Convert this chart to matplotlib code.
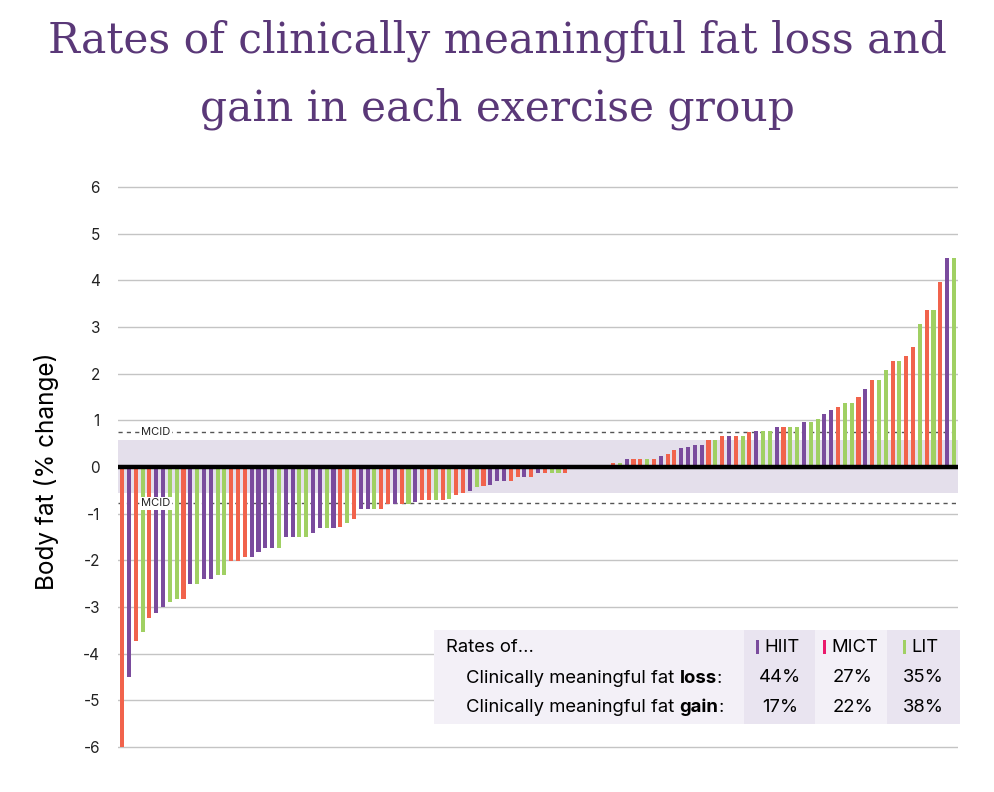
import numpy as np
import matplotlib
matplotlib.use("Agg")
import matplotlib.pyplot as plt
from matplotlib.patches import Rectangle

plt.rcParams['font.family'] = ['Inter', 'DejaVu Sans']
plt.rcParams['axes.unicode_minus'] = False

# group of each participant (sorted by change), H = HIIT, M = MICT, L = LIT
groups = list(
    "MHMLMHHLLM" "HLHHLLMMMH" "HHHLHHLLHH" "LHMLMHHLMM" "HMLHMMLMLM"
    "MHLMHHHMMH" "MHMLLM" "HLMHLM"
    "MLHMMLMHMM" "HHHHMLMHML" "MHLLHMLLHL" "LHHMLLMHML" "LMLMMLMLMHL"
)
# body fat change (%) for each bar
fat_change = [
    -6.0, -4.5, -3.73, -3.53, -3.23, -3.13, -3.01, -2.9, -2.83, -2.83,
    -2.51, -2.51, -2.41, -2.41, -2.32, -2.32, -2.01, -2.01, -1.92, -1.92,
    -1.82, -1.73, -1.73, -1.73, -1.51, -1.51, -1.51, -1.51, -1.41, -1.31,
    -1.31, -1.31, -1.28, -1.21, -1.11, -0.9, -0.9, -0.9, -0.9, -0.8,
    -0.8, -0.8, -0.8, -0.76, -0.71, -0.71, -0.71, -0.71, -0.68, -0.6,
    -0.55, -0.51, -0.43, -0.4, -0.39, -0.31, -0.31, -0.31, -0.21, -0.21,
    -0.21, -0.14, -0.14, -0.14, -0.14, -0.14,
    0, 0, 0, 0, 0, 0,
    0.08, 0.09, 0.18, 0.18, 0.18, 0.18, 0.18, 0.24, 0.27, 0.37,
    0.4, 0.43, 0.47, 0.47, 0.57, 0.57, 0.67, 0.67, 0.67, 0.67,
    0.74, 0.77, 0.77, 0.77, 0.86, 0.86, 0.86, 0.86, 0.96, 0.96,
    1.03, 1.14, 1.23, 1.28, 1.37, 1.37, 1.49, 1.67, 1.87, 1.87,
    2.07, 2.27, 2.27, 2.38, 2.56, 3.07, 3.37, 3.37, 3.97, 4.47, 4.47,
]
mcid_upper = 0.75
mcid_lower = -0.78
band = (-0.55, 0.58)

group_names = ["HIIT", "MICT", "LIT"]
loss_rates = ["44%", "27%", "35%"]
gain_rates = ["17%", "22%", "38%"]

bar_colors = {"H": "#7a4b9d", "M": "#f1634c", "L": "#a0d063"}
marker_colors = ["#7a4b9d", "#ea1a6c", "#a0d063"]
title_color = "#5a3878"

W, H = 994, 792
fig = plt.figure(figsize=(W / 100, H / 100), dpi=100)

def px(x):
    return x / W

def py(y):
    return 1 - y / H

ax = fig.add_axes([px(118), py(749.3), 840 / W, 564.7 / H])
n = len(fat_change)
x = np.arange(n)
cols = [bar_colors[g] for g in groups]

ax.axhspan(band[0], band[1], color="#e4dfeb", zorder=0, lw=0)
ax.bar(x, fat_change, width=0.6, color=cols, zorder=2)
ax.axhline(0, color="black", lw=3.2, zorder=4)
ax.axhline(mcid_upper, color="#555555", lw=1, ls=(0, (3, 3)), zorder=1)
ax.axhline(mcid_lower, color="#555555", lw=1, ls=(0, (3, 3)), zorder=1)
for yv in (mcid_upper, mcid_lower):
    ax.text(0.045, yv, "MCID", transform=ax.get_yaxis_transform(), ha="center",
            va="center", fontsize=8, color="#222222", zorder=5,
            bbox=dict(facecolor="white", edgecolor="none", pad=1.2))

ax.set_xlim(-0.6, n - 0.4)
ax.set_ylim(-6.05, 6.05)
ax.set_yticks(range(-6, 7))
ax.set_xticks([])
ax.grid(axis="y", color="#c4c4c4", lw=1, zorder=0)
ax.set_axisbelow(True)
for s in ax.spines.values():
    s.set_visible(False)
ax.tick_params(axis="y", length=0, pad=13, labelsize=11, labelcolor="#222222")

fig.text(px(47), py(471), "Body fat (% change)", rotation=90, ha="center",
         va="center", fontsize=17.5, color="black")

fig.text(0.5, py(53), "Rates of clinically meaningful fat loss and", ha="center",
         va="baseline", fontsize=30.5, color=title_color, family="DejaVu Serif")
fig.text(0.5, py(121), "gain in each exercise group", ha="center",
         va="baseline", fontsize=30.5, color=title_color, family="DejaVu Serif")

# table with the rates
fig.add_artist(Rectangle((px(434), py(724)), 526 / W, 94 / H, transform=fig.transFigure,
                         facecolor="#f3f0f7", edgecolor="none", zorder=6))
for x0, x1 in ((744, 815), (887, 960)):
    fig.add_artist(Rectangle((px(x0), py(724)), (x1 - x0) / W, 94 / H,
                             transform=fig.transFigure, facecolor="#e9e4f0",
                             edgecolor="none", zorder=6))

tfs = 13.3
fig.text(px(446), py(647), "Rates of...", ha="left", va="center", fontsize=tfs, zorder=7)
fig.canvas.draw()
r = fig.canvas.get_renderer()
for yrow, word in ((678, "loss"), (707, "gain")):
    t1 = fig.text(px(466), py(yrow + 5), "Clinically meaningful fat ", ha="left",
                  va="baseline", fontsize=tfs, zorder=7)
    w1 = t1.get_window_extent(r).width
    t2 = fig.text(px(466 + w1), py(yrow + 5), word, ha="left", va="baseline",
                  fontsize=tfs, fontweight="bold", zorder=7)
    w2 = t2.get_window_extent(r).width
    fig.text(px(466 + w1 + w2), py(yrow + 5), ":", ha="left", va="baseline",
             fontsize=tfs, zorder=7)

head_centers = [782.5, 854.5, 925]
val_centers = [780.5, 853, 923]
for hx, vx, name, mc, lo, ga in zip(head_centers, val_centers, group_names,
                                    marker_colors, loss_rates, gain_rates):
    t = fig.text(px(hx), py(647), name, ha="center", va="center", fontsize=tfs, zorder=7)
    tw = t.get_window_extent(r).width
    fig.add_artist(Rectangle((px(hx - tw / 2 - 8.5), py(654)), 3 / W, 14 / H,
                             transform=fig.transFigure, facecolor=mc, edgecolor="none", zorder=7))
    fig.text(px(vx), py(678), lo, ha="center", va="center", fontsize=tfs, zorder=7)
    fig.text(px(vx), py(707), ga, ha="center", va="center", fontsize=tfs, zorder=7)

fig.savefig("out.png", dpi=100)
